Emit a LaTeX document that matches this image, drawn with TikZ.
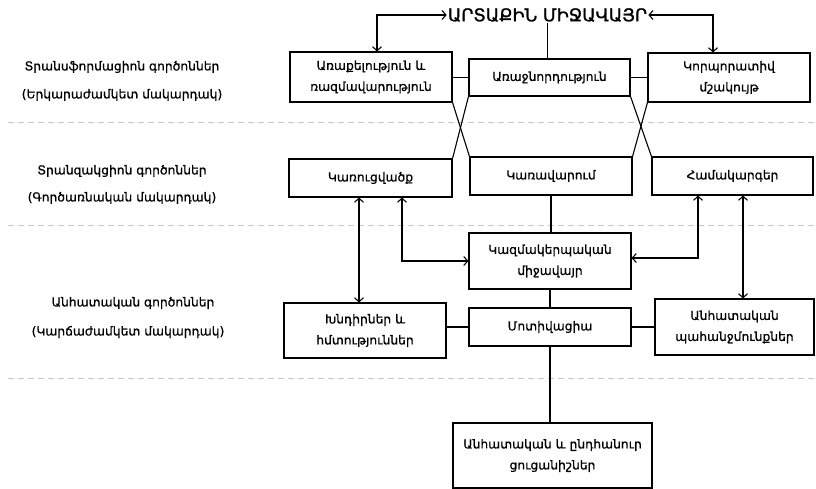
\documentclass[tikz,border=0pt]{standalone}
\usepackage{fontspec}
\setmainfont{DejaVu Sans}[FakeBold=0.7]
\newfontfamily\titlefont{DejaVu Sans}[FakeBold=1.3]
\usetikzlibrary{arrows.meta}
\tikzset{
  box/.style={draw, line width=1.1pt, align=center, inner sep=2pt,
    font=\fontsize{12.3}{21}\selectfont},
  lab/.style={font=\fontsize{12.3}{14}\selectfont, inner sep=0pt},
  conn/.style={line width=1.1pt},
  arr/.style={line width=1.1pt, {Straight Barb[length=4pt,width=9pt]}-{Straight Barb[length=4pt,width=9pt]}},
  sep/.style={draw=black!22, line width=0.8pt, dash pattern=on 6pt off 4pt}
}
\begin{document}
\begin{tikzpicture}[x=1pt,y=-1pt]
\useasboundingbox (0,0) rectangle (816,489);
% separators
\coordinate (s1a) at (8,122); \coordinate (s1b) at (816,122);
\coordinate (s2a) at (8,225); \coordinate (s2b) at (816,225);
\coordinate (s3a) at (8,378); \coordinate (s3b) at (816,378);
\draw[sep] (s1a) -- (s1b);
\draw[sep] (s2a) -- (s2b);
\draw[sep] (s3a) -- (s3b);
% left labels
\node[lab] (l1a) at (122,67) {Տրանսֆորմացիոն գործոններ};
\node[lab] (l1b) at (122,95) {(Երկարաժամկետ մակարդակ)};
\node[lab] (l2a) at (122,171) {Տրանզակցիոն գործոններ};
\node[lab] (l2b) at (122,198) {(Գործառնական մակարդակ)};
\node[lab] (l3a) at (133,303) {Անհատական գործոններ};
\node[lab] (l3b) at (128,332) {(Կարճաժամկետ մակարդակ)};
% title
\node[font=\titlefont\fontsize{17.5}{19}\selectfont, inner sep=1pt] (title) at (547.5,15) {ԱՐՏԱՔԻՆ ՄԻՋԱՎԱՅՐ};
% boxes
\node[box, minimum width=162pt, minimum height=50pt] (b1L) at (371,77) {Առաքելություն և\\ռազմավարություն};
\node[box, minimum width=161pt, minimum height=37pt] (b1C) at (549.5,77.5) {Առաջնորդություն};
\node[box, minimum width=162pt, minimum height=49pt] (b1R) at (729,77.5) {Կորպորատիվ\\մշակույթ};
\node[box, minimum width=163pt, minimum height=38pt] (b2L) at (370.5,178) {Կառուցվածք};
\node[box, minimum width=162pt, minimum height=38pt] (b2C) at (551,176) {Կառավարում};
\node[box, minimum width=161pt, minimum height=38pt] (b2R) at (732.5,176) {Համակարգեր};
\node[box, minimum width=162pt, minimum height=56pt] (env) at (550,261) {Կազմակերպական\\միջավայր};
\node[box, minimum width=162pt, minimum height=55pt] (b3L) at (365,330.5) {Խնդիրներ և\\հմտություններ};
\node[box, minimum width=162pt, minimum height=38pt] (mot) at (550,327) {Մոտիվացիա};
\node[box, minimum width=159pt, minimum height=56pt] (b3R) at (734.5,327) {Անհատական\\պահանջմունքներ};
\node[box, minimum width=199pt, minimum height=65pt] (fin) at (552.5,455.5) {Անհատական և ընդհանուր\\ցուցանիշներ};
% title connectors
\coordinate (cL) at (377,15);
\coordinate (cR) at (713,15);
\draw[arr] (title.west) -- (cL) -- (cL |- b1L.north);
\draw[arr] (title.east) -- (cR) -- (cR |- b1R.north);
\draw[conn] (title.south) -- (title.south |- b1C.north);
% row 1 links
\draw[conn] (b1C.west) -- (b1C.west -| b1L.east);
\draw[conn] (b1C.east) -- (b1C.east -| b1R.west);
% crossings
\draw[conn] (b1L.south east) -- (b2C.north west);
\draw[conn] (b1C.south west) -- (b2L.north east);
\draw[conn] (b1C.south east) -- (b2R.north west);
\draw[conn] (b1R.south west) -- (b2C.north east);
% vertical center
\draw[conn] (b2C.south) -- (b2C.south |- env.north);
\draw[conn] (env.south) -- (env.south |- mot.north);
\draw[conn] (mot.south) -- (mot.south |- fin.north);
% row 3 links
\draw[conn] (mot.west) -- (mot.west -| b3L.east);
\draw[conn] (mot.east) -- (mot.east -| b3R.west);
% arrows
\coordinate (a1) at (359,0);
\coordinate (a2) at (402,0);
\coordinate (a3) at (698,0);
\coordinate (a4) at (743,0);
\draw[arr] (b2L.south -| a1) -- (b3L.north -| a1);
\draw[arr] (b2L.south -| a2) |- (env.west);
\draw[arr] (b2R.south -| a3) |- ([yshift=3pt]env.east);
\draw[arr] (b2R.south -| a4) -- (b3R.north -| a4);
\end{tikzpicture}
\end{document}
